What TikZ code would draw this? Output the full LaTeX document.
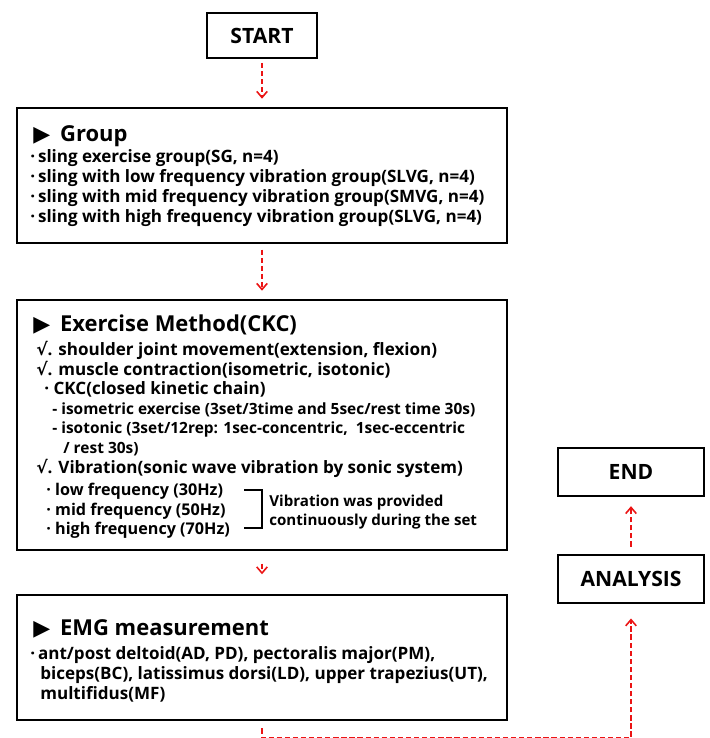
\documentclass[tikz,border=0pt]{standalone}
\usepackage{fontspec}
\setmainfont{Open Sans}
\newfontfamily\symfont{DejaVu Sans}
\usetikzlibrary{arrows.meta}

\definecolor{flowred}{RGB}{235,20,20}
\newcommand{\tri}{{\symfont\char"25B6}}
\newcommand{\chk}{{\symfont\char"221A}}

\begin{document}
\begin{tikzpicture}[x=0.02cm, y=-0.02cm, >={Straight Barb[length=3.5pt,width=6pt]},
        box/.style={draw, line width=1.6pt, inner sep=0pt},
        flow/.style={->, flowred, line width=0.9pt, dash pattern=on 3pt off 1.6pt},
        txt/.style={anchor=base west, inner sep=0pt, font=\fontsize{9.7}{11}\selectfont\bfseries},
        subtxt/.style={anchor=base west, inner sep=0pt, font=\fontsize{8.8}{10}\selectfont\bfseries},
        head/.style={anchor=base west, inner sep=0pt, font=\fontsize{12.5}{15}\selectfont\bfseries},
        term/.style={box, font=\fontsize{12}{14}\selectfont\bfseries}]
    \useasboundingbox (0, 0) rectangle (710, 738);

    % Boxes of the main column
    \node[term, minimum width=2.2cm, minimum height=0.9cm] (start) at (262, 35.5) {START};
    \node[box, minimum width=9.8cm, minimum height=2.7cm] (group) at (262, 175.5) {};
    \node[box, minimum width=9.8cm, minimum height=5cm] (method) at (262, 425) {};
    \node[box, minimum width=9.8cm, minimum height=2.5cm] (emg) at (262, 657.5) {};

    % Boxes on the right
    \node[term, minimum width=2.92cm, minimum height=0.96cm] (analysis) at (631, 579) {ANALYSIS};
    \node[term, minimum width=2.92cm, minimum height=0.96cm] (finish) at (631, 472) {END};

    % Group
    \node[head] (ghead) at (33, 141) {\tri\hspace{0.45em}Group};
    \foreach \yy/\txt in {162/{sling exercise group(SG, n=4)},
            182/{sling with low frequency vibration group(SLVG, n=4)},
            202/{sling with mid frequency vibration group(SMVG, n=4)},
            222/{sling with high frequency vibration group(SLVG, n=4)}} {
            \node[txt] (g\yy) at (30, \yy) {·\,\txt};
        }

    % Exercise method
    \node[head] (mhead) at (33, 331) {\tri\hspace{0.45em}Exercise Method(CKC)};
    \node[txt] (m1) at (36, 355) {\chk. shoulder joint movement(extension, flexion)};
    \node[txt] (m2) at (36, 375) {\chk. muscle contraction(isometric, isotonic)};
    \node[txt] (m3) at (44, 394) {· CKC(closed kinetic chain)};
    \node[subtxt] (m4) at (52, 414) {- isometric exercise (3set/3time and 5sec/rest time 30s)};
    \node[subtxt] (m5) at (52, 433) {- isotonic (3set/12rep: 1sec-concentric,\ \ 1sec-eccentric};
    \node[subtxt] (m6) at (63, 453) {/ rest 30s)};
    \node[txt] (m7) at (36, 473) {\chk. Vibration(sonic wave vibration by sonic system)};
    \foreach \yy/\name/\txt in {495/lowf/{low frequency (30Hz)},
            515/midf/{mid frequency (50Hz)}, 534/highf/{high frequency (70Hz)}} {
            \node[txt, font=\fontsize{9.2}{11}\selectfont\bfseries] (\name) at (46, \yy) {·\ \txt};
        }
    \draw[line width=0.8pt] (244, 490) -- (262, 490) -- (262, 528) -- (244, 528);
    \node[subtxt, font=\fontsize{8.6}{10}\selectfont\bfseries] (note1) at (269, 506) {Vibration was provided};
    \node[subtxt, font=\fontsize{8.6}{10}\selectfont\bfseries] (note2) at (269, 525) {continuously during the set};

    % EMG
    \node[head] (ehead) at (33, 635) {\tri\hspace{0.45em}EMG measurement};
    \node[txt] (e1) at (30, 659) {·\,ant/post deltoid(AD, PD), pectoralis major(PM),};
    \node[txt] (e2) at (40, 679) {biceps(BC), latissimus dorsi(LD), upper trapezius(UT),};
    \node[txt] (e3) at (40, 699) {multifidus(MF)};

    % Flow
    \draw[flow, shorten <=2pt, shorten >=4.5pt] (start) -- (group);
    \draw[flow, shorten <=3pt, shorten >=4.5pt] (group) -- (method);
    \draw[flow, shorten <=7pt, shorten >=11pt] (method) -- (emg);
    \draw[flow, shorten <=4pt, shorten >=8pt] (emg.south) -- (262, 738) -| (analysis.south);
    \draw[flow, shorten <=4pt, shorten >=5pt] (analysis) -- (finish);
\end{tikzpicture}
\end{document}
